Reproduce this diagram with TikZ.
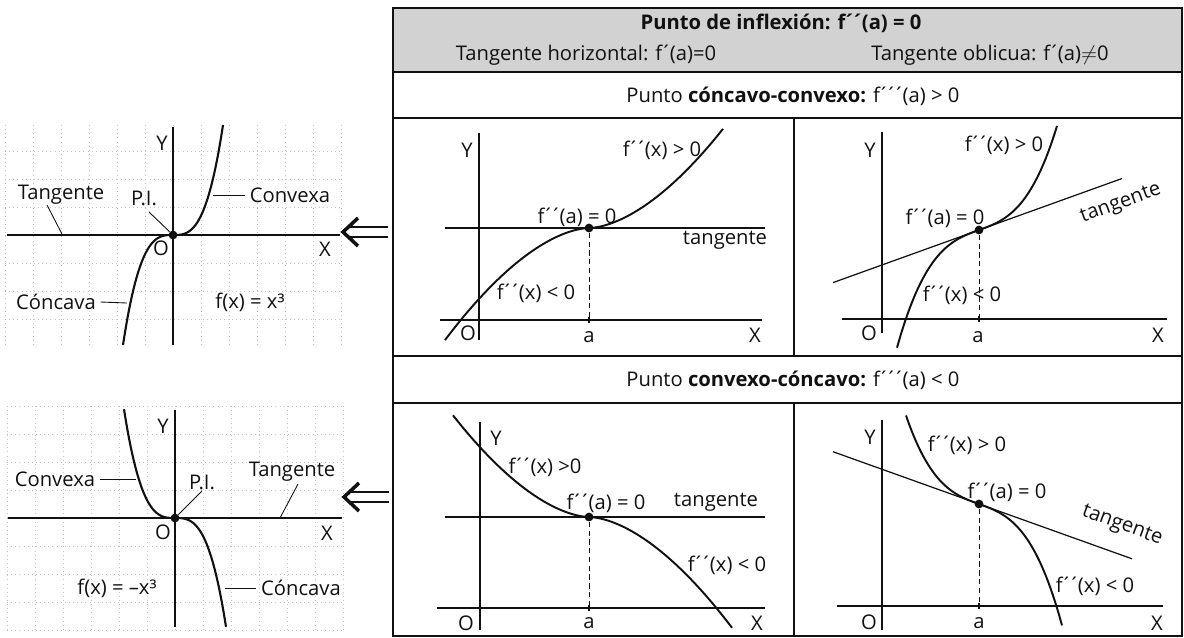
\documentclass[tikz,border=0pt]{standalone}
\usepackage{fontspec}
\setmainfont{Open Sans}
\usepackage{tikz}
\usetikzlibrary{arrows.meta,positioning,calc}
\definecolor{ink}{HTML}{111111}
\definecolor{halftone}{HTML}{D2D2D2}
\definecolor{gridc}{HTML}{C4C4C4}
\newcommand{\acc}{\kern-.1em´\kern-.1em}
\tikzset{
  lbl/.style={font=\fontsize{11.5}{13}\selectfont,text=ink,inner sep=2.5pt},
  hdr/.style={font=\fontsize{11.5}{13}\selectfont,text=ink,inner sep=0pt},
  hdrb/.style={hdr,font=\fontsize{11.5}{13}\selectfont\bfseries},
  frame/.style={draw=ink,line width=1pt},
  axis/.style={draw=ink,line width=0.7pt},
  curve/.style={draw=ink,line width=1.1pt},
  tang/.style={draw=ink,line width=0.7pt},
  guide/.style={draw=ink,dash pattern=on 3pt off 2pt,line width=0.5pt},
  lead/.style={draw=ink,line width=0.5pt},
  dot/.style={circle,fill=ink,inner sep=0pt,minimum size=5pt},
  gridln/.style={draw=gridc,dotted,line width=0.35pt},
}
\newcommand{\bigimplies}[2]{%
  \begin{scope}[shift={(#1,#2)}]
    \draw[ink,line width=1.6pt] (45,-5) -- (6,-5) (45,5) -- (6,5);
    \draw[ink,line width=2pt,line join=miter] (15,-14) -- (0,0) -- (15,14);
  \end{scope}}

\begin{document}
\begin{tikzpicture}[x=0.02cm,y=-0.02cm]
  \useasboundingbox (0,0) rectangle (1184,637);

  % table frame
  \fill[halftone] (393,8) rectangle (1182,72);
  \draw[frame] (393,8) rectangle (1182,636);
  \draw[frame] (393,72) -- (1182,72);
  \draw[frame] (393,118) -- (1182,118);
  \draw[frame] (393,356) -- (1182,356);
  \draw[frame] (393,403) -- (1182,403);
  \draw[frame] (794,118) -- (794,356);
  \draw[frame] (794,403) -- (794,636);
  \node[hdrb] (title) at (781,23) {Punto de inflexión: f\acc\acc(a) = 0};
  \node[hdr] (horiz) at (586,55) {Tangente horizontal: f\acc(a)=0};
  \node[hdr] (oblic) at (990,55) {Tangente oblicua: f\acc(a)$\neq$0};
  \node[hdr] (rowcc) at (793,96) {Punto \textbf{cóncavo-convexo:} f\acc\acc\acc(a) > 0};
  \node[hdr] (rowvc) at (793,380) {Punto \textbf{convexo-cóncavo:} f\acc\acc\acc(a) < 0};

  % left: f(x) = x^3
  \foreach \gx in {5,33,...,341} \draw[gridln] (\gx,125) -- (\gx,345);
  \foreach \gy in {151,179,...,319} \draw[gridln] (5,\gy) -- (341,\gy);
  \draw[axis,line width=0.8pt] (7,235) -- (340,235);
  \draw[axis,line width=0.8pt] (173,127) -- (173,345);
  \begin{scope}[shift={(173,235)},yscale=-1]
    \draw[curve,line width=1.2pt] plot[domain=-50:50,samples=60,smooth] (\x,{0.88*(\x/10)*(\x/10)*(\x/10)});
  \end{scope}
  \node[dot] (pi1) at (173,235) {};
  \node[lbl] (ya) at (162,143) {Y};
  \node[lbl] (oa) at (161,248) {O};
  \node[lbl] (xa) at (325,249) {X};
  \node[lbl] (tga) at (61,195) {Tangente};
  \node[lbl] (pia) at (144,198) {P.I.};
  \node[lbl] (cva) at (290,195) {Convexa};
  \node[lbl] (cca) at (56,302) {Cóncava};
  \node[lbl] (fxa) at (250,302) {f(x) = x³};
  \coordinate (tga1) at (47,205);
  \coordinate (tga2) at (62,234);
  \coordinate (pia1) at (149,212);
  \coordinate (cva1) at (213,195);
  \coordinate (cca1) at (127,303);
  \draw[lead] (tga1) -- (tga2);
  \draw[lead] (pia1) -- (pi1);
  \draw[lead] (cva1) -- (cva.west);
  \draw[lead] (cca.east) -- (cca1);

  % left: f(x) = -x^3
  \foreach \gx in {7,35,...,343} \draw[gridln] (\gx,406) -- (\gx,630);
  \foreach \gy in {406,434,...,630} \draw[gridln] (7,\gy) -- (343,\gy);
  \draw[axis,line width=0.8pt] (8,518) -- (342,518);
  \draw[axis,line width=0.8pt] (175,410) -- (175,627);
  \begin{scope}[shift={(175,518)},yscale=-1]
    \draw[curve,line width=1.2pt] plot[domain=-51:51,samples=60,smooth] (\x,{-0.82*(\x/10)*(\x/10)*(\x/10)});
  \end{scope}
  \node[dot] (pi2) at (175,518) {};
  \node[lbl] (yb) at (163,426) {Y};
  \node[lbl] (ob) at (163,532) {O};
  \node[lbl] (xb) at (327,533) {X};
  \node[lbl] (cvb) at (55,479) {Convexa};
  \node[lbl] (pib) at (202,482) {P.I.};
  \node[lbl] (tgb) at (292,472) {Tangente};
  \node[lbl] (fxb) at (117,588) {f(x) = –x³};
  \node[lbl] (ccb) at (301,588) {Cóncava};
  \coordinate (cvb1) at (136,479);
  \coordinate (pib1) at (202,491);
  \coordinate (tgb1) at (298,484);
  \coordinate (tgb2) at (280,518);
  \coordinate (ccb1) at (225,588);
  \draw[lead] (cvb.east) -- (cvb1);
  \draw[lead] (pib1) -- (pi2);
  \draw[lead] (tgb1) -- (tgb2);
  \draw[lead] (ccb1) -- (ccb.west);

  % arrows towards the examples
  \bigimplies{343}{232}
  \bigimplies{344}{497}

  % panel 1: concavo-convexo, horizontal tangent
  \begin{scope}[shift={(589,228)},yscale=-1]
    \draw[axis] (-149,-92) -- (173,-92);
    \draw[axis] (-110,95) -- (-110,-112);
    \draw[tang] (-144,0) -- (176,0);
    \draw[curve] plot[domain=-144:134,samples=80,smooth] (\x,{0.024*\x*(abs(\x)+0.01)^0.7});
    \draw[axis] (0,-89) -- (0,-95);
    \coordinate (ta1) at (0,-92);
  \end{scope}
  \node[dot] (da1) at (589,228) {};
  \draw[guide] (da1) -- (ta1);
  \node[lbl] (y1) at (467,150) {Y};
  \node[lbl] (o1) at (468,333) {O};
  \node[lbl] (x1) at (755,335) {X};
  \node[lbl] (a1) at (589,337) {a};
  \node[lbl] (up1) at (662,150) {f\acc\acc(x) > 0};
  \node[lbl] (md1) at (577,217) {f\acc\acc(a) = 0};
  \node[lbl] (tg1) at (725,240) {tangente};
  \node[lbl] (dn1) at (536,293) {f\acc\acc(x) < 0};

  % panel 2: concavo-convexo, oblique tangent
  \begin{scope}[shift={(979,230)},yscale=-1]
    \draw[axis] (-137,-89) -- (188,-89);
    \draw[axis] (-97,98) -- (-97,-103);
    \draw[tang] (-146,-52.6) -- (143,51.5);
    \draw[curve] plot[domain=-82:78,samples=80,smooth] (\x,{0.36*\x+0.16*(\x/10)*(\x/10)*(\x/10)});
    \draw[axis] (0,-86) -- (0,-92);
    \coordinate (ta2) at (0,-89);
  \end{scope}
  \node[dot] (da2) at (979,230) {};
  \draw[guide] (da2) -- (ta2);
  \node[lbl] (y2) at (870,150) {Y};
  \node[lbl] (o2) at (869,333) {O};
  \node[lbl] (x2) at (1158,335) {X};
  \node[lbl] (a2) at (978,337) {a};
  \node[lbl] (up2) at (1004,145) {f\acc\acc(x) > 0};
  \node[lbl] (md2) at (945,218) {f\acc\acc(a) = 0};
  \node[lbl,rotate=20,inner sep=0pt] (tg2) at (1121,204) {tangente};
  \node[lbl] (dn2) at (962,295) {f\acc\acc(x) < 0};

  % panel 3: convexo-concavo, horizontal tangent
  \begin{scope}[shift={(589,517)},yscale=-1]
    \draw[axis] (-152,-91) -- (176,-91);
    \draw[axis] (-109,95) -- (-109,-113);
    \draw[tang] (-144,0) -- (176,0);
    \draw[curve] plot[domain=-136:143,samples=80,smooth] (\x,{-0.024*\x*(abs(\x)+0.01)^0.7});
    \draw[axis] (0,-88) -- (0,-94);
    \coordinate (ta3) at (0,-91);
  \end{scope}
  \node[dot] (da3) at (589,517) {};
  \draw[guide] (da3) -- (ta3);
  \node[lbl] (y3) at (496,438) {Y};
  \node[lbl] (o3) at (466,623) {O};
  \node[lbl] (x3) at (757,623) {X};
  \node[lbl] (a3) at (589,623) {a};
  \node[lbl] (up3) at (545,467) {f\acc\acc(x) >0};
  \node[lbl] (md3) at (606,503) {f\acc\acc(a) = 0};
  \node[lbl] (tg3) at (716,502) {tangente};
  \node[lbl] (dn3) at (727,565) {f\acc\acc(x) < 0};

  % panel 4: convexo-concavo, oblique tangent
  \begin{scope}[shift={(979,504)},yscale=-1]
    \draw[axis] (-142,-102) -- (184,-102);
    \draw[axis] (-97,84) -- (-97,-126);
    \draw[tang] (-146,52.3) -- (153,-54.8);
    \draw[curve] plot[domain=-73:83,samples=80,smooth] (\x,{-0.36*\x-0.16*(\x/10)*(\x/10)*(\x/10)});
    \draw[axis] (0,-99) -- (0,-105);
    \coordinate (ta4) at (0,-102);
  \end{scope}
  \node[dot] (da4) at (979,504) {};
  \draw[guide] (da4) -- (ta4);
  \node[lbl] (y4) at (870,437) {Y};
  \node[lbl] (o4) at (869,622) {O};
  \node[lbl] (x4) at (1157,623) {X};
  \node[lbl] (a4) at (979,623) {a};
  \node[lbl] (up4) at (967,445) {f\acc\acc(x) > 0};
  \node[lbl] (md4) at (1007,492) {f\acc\acc(a) = 0};
  \node[lbl,rotate=-20,inner sep=0pt] (tg4) at (1122,526) {tangente};
  \node[lbl] (dn4) at (1095,586) {f\acc\acc(x) < 0};
\end{tikzpicture}
\end{document}
